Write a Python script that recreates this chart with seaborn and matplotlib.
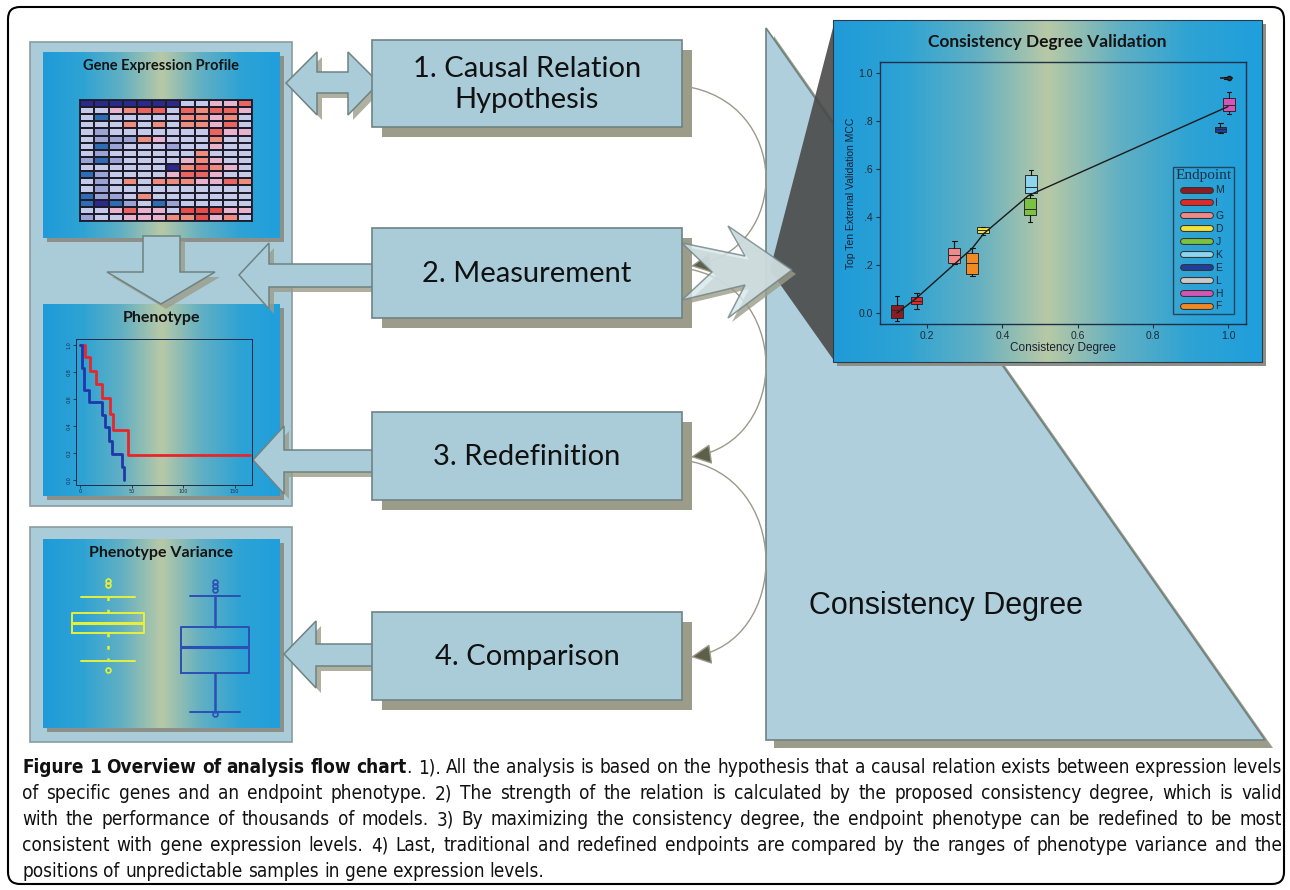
import os
import numpy as np
import matplotlib
matplotlib.use('Agg')
import matplotlib.pyplot as plt
import matplotlib.patheffects as pe
import seaborn as sns
from matplotlib import font_manager
from matplotlib.font_manager import FontProperties
from matplotlib.patches import Polygon, Rectangle, FancyBboxPatch, FancyArrowPatch
from matplotlib.path import Path
from matplotlib.colors import LinearSegmentedColormap
from matplotlib.lines import Line2D

sns.set_theme(style='white')
names = {f.name for f in font_manager.fontManager.ttflist}
plt.rcParams['font.family'] = ['DejaVu Sans']
calib = 'Lato' if 'Lato' in names else 'DejaVu Sans'
arial = 'Liberation Sans' if 'Liberation Sans' in names else 'DejaVu Sans'
serif = 'Liberation Serif' if 'Liberation Serif' in names else 'DejaVu Serif'

# a narrow sans for the caption, if one is installed
narrow = [f for f in font_manager.fontManager.ttflist
          if ('condensed' in f.stretch or 'Condensed' in os.path.basename(f.fname)
              or 'Narrow' in os.path.basename(f.fname))
          and 'Mono' not in f.fname and 'Serif' not in f.fname and f.style == 'normal']
narrow_reg = [f for f in narrow if f.weight in (400, 'normal', 'regular')]
narrow_bold = [f for f in narrow if f.weight in (700, 'bold')]
if narrow_reg and narrow_bold:
    cap_reg = FontProperties(fname=narrow_reg[0].fname)
    cap_bold = FontProperties(fname=narrow_bold[0].fname)
    cap_is_narrow = True
else:
    cap_reg = FontProperties(family=arial)
    cap_bold = FontProperties(family=arial, weight='bold')
    cap_is_narrow = False

# ---- data ----
step_labels = ['1. Causal Relation\nHypothesis', '2. Measurement', '3. Redefinition', '4. Comparison']
panel_titles = ['Gene Expression Profile', 'Phenotype', 'Phenotype Variance']

heat_values = [
    [-2, -2, -2, -2, -2, -2, -2, -0.5, -0.5, 0.5, 0.5, 1.5],
    [-0.5, -0.5, 0.5, 1.2, 1.5, 1.5, -0.5, 1.5, 1.2, 1.5, 1.5, 0.5],
    [-0.5, -1.5, -0.5, -0.5, -0.5, -0.5, -0.5, 1.2, 1.2, 0.5, 1.2, -0.5],
    [-0.5, -0.5, -0.5, 1.2, -0.5, 1.2, -0.5, 1.2, 1.2, 0.5, 1.5, -0.5],
    [-0.5, -1, -0.5, -0.5, -0.5, -0.5, -0.5, -0.5, -0.5, 1.5, 0.5, 0.5],
    [-0.5, -1, -1, -1, 1.2, 0.5, -0.5, -0.5, -0.5, 1.2, -0.5, -0.5],
    [-0.5, -1.5, -1, -0.5, -0.5, -0.5, -1, -0.5, -0.5, 0.5, -0.5, -0.5],
    [-0.5, -1, -0.5, -0.5, -0.5, -0.5, -0.5, -0.5, 1.2, -0.5, -0.5, -0.5],
    [-1, -1.5, -1, -0.5, -0.5, -0.5, -0.5, 0.5, 1.2, 0.5, -0.5, -0.5],
    [-0.5, -0.5, -0.5, -0.5, -0.5, -0.5, -2, 1.2, 1.5, 1.2, 0.5, -0.5],
    [-1.5, -1, -0.5, -0.5, -0.5, -0.5, 0.5, 1.5, 1.5, 0.5, -0.5, -0.5],
    [-0.5, -1, -0.5, 1.2, -0.5, 1.2, 1.2, 1.2, 0.5, 0.5, 1.5, 1.2],
    [-0.5, -1, -0.5, -0.5, -0.5, -0.5, -0.5, -0.5, -0.5, -0.5, -0.5, -0.5],
    [-1.5, -1, -1, -0.5, 1.2, -0.5, -0.5, -0.5, -0.5, -0.5, -0.5, -0.5],
    [-1.5, -2, -1.5, -1, -0.5, -1.5, -1, -0.5, -0.5, -0.5, -0.5, -0.5],
    [-0.5, -0.5, 0.5, 1.5, 0.5, 0.5, -0.5, 1.8, 1.8, 1.8, 0.5, 0.5],
    [-1, -0.5, -0.5, 0.5, 0.5, 0.5, 1.2, 1.2, 1.8, 0.5, 1.2, -0.5],
]

km_red_t = [0, 5, 10, 15, 21, 29, 32, 47, 165]
km_red_s = [1.0, 0.91, 0.81, 0.71, 0.61, 0.49, 0.37, 0.185, 0.185]
km_blue_t = [0, 2, 4, 9, 21, 24, 28, 31, 41, 43]
km_blue_s = [1.0, 0.83, 0.67, 0.58, 0.48, 0.39, 0.29, 0.19, 0.096, 0.0]

var_whislo = [6.5, 1.4]
var_q1 = [9.3, 5.3]
var_med = [10.3, 7.9]
var_q3 = [11.3, 9.9]
var_whishi = [12.9, 13.0]
var_fliers = [[14.5, 14.1, 5.6], [14.4, 14.0, 13.6, 1.2]]

endpoints = ['M', 'I', 'G', 'D', 'J', 'K', 'E', 'L', 'H', 'F']
endpoint_colors = ['#8b1c24', '#e02a2a', '#f08a8a', '#f2e23c', '#7cc242',
                   '#8fd4ee', '#1f3f9e', '#c9c9c9', '#d455b8', '#f28a24']
cd_x = [0.12, 0.172, 0.272, 0.349, 0.473, 0.476, 0.98, 0.995, 1.003, 0.32]
mcc_whislo = [-0.033, 0.018, 0.203, 0.325, 0.38, 0.49, 0.749, 0.976, 0.828, 0.154]
mcc_q1 = [-0.02, 0.037, 0.207, 0.332, 0.408, 0.499, 0.756, 0.978, 0.843, 0.161]
mcc_med = [0.012, 0.051, 0.242, 0.346, 0.435, 0.526, 0.765, 0.98, 0.867, 0.21]
mcc_q3 = [0.033, 0.068, 0.272, 0.357, 0.478, 0.575, 0.774, 0.982, 0.894, 0.249]
mcc_whishi = [0.071, 0.085, 0.30, 0.359, 0.49, 0.596, 0.793, 0.984, 0.92, 0.272]
trend_x = [0.12, 0.17, 0.27, 0.32, 0.35, 0.47, 1.0]
trend_y = [0.0, 0.06, 0.2, 0.27, 0.33, 0.49, 0.86]

caption_bold = 'Figure 1 Overview of analysis flow chart'
caption_lines = [
    'Figure 1 Overview of analysis flow chart. 1). All the analysis is based on the hypothesis that a causal relation exists between expression levels',
    'of specific genes and an endpoint phenotype. 2) The strength of the relation is calculated by the proposed consistency degree, which is valid',
    'with the performance of thousands of models. 3) By maximizing the consistency degree, the endpoint phenotype can be redefined to be most',
    'consistent with gene expression levels. 4) Last, traditional and redefined endpoints are compared by the ranges of phenotype variance and the',
    'positions of unpredictable samples in gene expression levels.',
]

# ---- canvas in pixel units ----
W, H = 1290, 890
fig = plt.figure(figsize=(12.9, 8.9), dpi=100)
ax = fig.add_axes([0, 0, 1, 1])
ax.axis('off')

box_fc, box_ec, shadow_c = '#a9ccd8', '#6f8282', '#9c9c8a'
grad_cmap = LinearSegmentedColormap.from_list(
    'grad', ['#1f9bd9', '#2ea3d4', '#62b0c3', '#b8c9a6', '#62b0c3', '#2ea3d4', '#1f9fdd'])
heat_cmap = LinearSegmentedColormap.from_list(
    'heat', [(0, '#2b2a8a'), (0.125, '#2e6cb4'), (0.25, '#9aa3d4'), (0.375, '#c5cae8'),
             (0.5, '#d9cde2'), (0.625, '#e8b4cc'), (0.8, '#f08c7c'), (0.875, '#ec6560'),
             (1, '#e0403c')])


def px_axes(x0, y0, x1, y1):
    a = fig.add_axes([x0 / W, 1 - y1 / H, (x1 - x0) / W, (y1 - y0) / H])
    a.set_facecolor('none')
    return a


def gradient_panel(x0, y0, x1, y1, z, edge='none'):
    ax.add_patch(Rectangle((x0 + 4, y0 + 4), x1 - x0, y1 - y0, fc='#8d9088', ec='none', zorder=z - 0.2))
    g = np.linspace(0, 1, 256).reshape(1, -1)
    ax.imshow(g, extent=(x0, x1, y1, y0), cmap=grad_cmap, aspect='auto', zorder=z, interpolation='bicubic')
    ax.add_patch(Rectangle((x0, y0), x1 - x0, y1 - y0, fc='none', ec=edge, lw=0.8, zorder=z + 0.1))


def block(points, z, off=5, fc=box_fc, alpha=1.0):
    pts = np.array(points, float)
    ax.add_patch(Polygon(pts + off, closed=True, fc=shadow_c, ec='none', alpha=0.8, zorder=z - 0.1))
    ax.add_patch(Polygon(pts, closed=True, fc=fc, ec=box_ec, lw=1.1, alpha=alpha, zorder=z))


# outer frame
ax.add_patch(FancyBboxPatch((8, 7), 1276, 877, boxstyle='round,pad=0,rounding_size=12',
                            fc='white', ec='black', lw=1.5, zorder=0))

# big "Consistency Degree" triangle
tri = np.array([[766, 28], [1265, 740], [766, 740]], float)
ax.add_patch(Polygon(tri + 8, closed=True, fc=shadow_c, ec='none', zorder=1))
ax.add_patch(Polygon(tri, closed=True, fc='#aecfdb', ec='#6f8282', lw=1.2, zorder=1.1))
ax.text(946, 606, 'Consistency Degree', fontsize=22, family=arial, color='#111111',
        ha='center', va='center', zorder=1.2)

# left outer panels
for (x0, y0, x1, y1) in [(30, 42, 292, 506), (30, 527, 292, 742)]:
    ax.add_patch(Rectangle((x0, y0), x1 - x0, y1 - y0, fc=box_fc, ec='#8a9c9c', lw=1.2, zorder=1))

# inner gradient panels
gradient_panel(43, 52, 280, 238, 2)
gradient_panel(43, 304, 280, 496, 2)
gradient_panel(43, 539, 280, 728, 2)
gradient_panel(833, 20, 1262, 362, 7, edge='#2b3b4b')

ax.text(161, 66, panel_titles[0], fontsize=10.5, fontweight='bold', family=calib,
        color='#141414', ha='center', va='center', zorder=3)
ax.text(161, 318, panel_titles[1], fontsize=11.5, fontweight='bold', family=calib,
        color='#141414', ha='center', va='center', zorder=3)
ax.text(161, 553, panel_titles[2], fontsize=11.5, fontweight='bold', family=calib,
        color='#141414', ha='center', va='center', zorder=3)
ax.text(1047, 42, 'Consistency Degree Validation', fontsize=12.5, fontweight='bold', family=calib,
        color='#141414', ha='center', va='center', zorder=8)

# connector curves between steps
for (ya, yb) in [(86, 266), (268, 457), (460, 657)]:
    verts = [(683, ya), (792, ya + 15), (792, yb - 15), (691, yb)]
    codes = [Path.MOVETO, Path.CURVE4, Path.CURVE4, Path.CURVE4]
    ax.add_patch(FancyArrowPatch(path=Path(verts, codes), arrowstyle='-|>,head_length=0.8,head_width=0.4',
                                 mutation_scale=16, ec='#9a9a8a', fc='#5c6048', lw=1.0,
                                 transform=ax.transData, zorder=3))

# step boxes
step_boxes = [(372, 40, 682, 127), (372, 228, 682, 318), (372, 412, 682, 500), (372, 612, 682, 700)]
for (x0, y0, x1, y1), lab in zip(step_boxes, step_labels):
    ax.add_patch(Rectangle((x0 + 10, y0 + 10), x1 - x0, y1 - y0, fc=shadow_c, ec='none', zorder=4))
    ax.add_patch(Rectangle((x0, y0), x1 - x0, y1 - y0, fc=box_fc, ec=box_ec, lw=1.2, zorder=4.1))
    ax.text((x0 + x1) / 2, (y0 + y1) / 2 + 1, lab, fontsize=21, family=calib, color='#111111',
            ha='center', va='center', linespacing=1.25, zorder=4.2)

# block arrows
block([(286, 83), (317, 52), (317, 72), (348, 72), (348, 52), (379, 83),
       (348, 115), (348, 93), (317, 93), (317, 115)], 3.5)
block([(239, 275), (269, 243), (269, 264), (379, 264), (379, 287), (269, 287), (269, 309)], 3.5)
block([(253, 460), (284, 426), (284, 450), (379, 450), (379, 472), (284, 472), (284, 494)], 3.5)
block([(284, 654), (316, 621), (316, 644), (379, 644), (379, 666), (316, 666), (316, 688)], 3.5)
block([(143, 236), (180, 236), (180, 272), (215, 272), (161, 304), (107, 272), (143, 272)], 3.5)

# zoom lens and measurement arrow
ax.add_patch(Polygon([(770, 270), (835, 20), (835, 362)], closed=True, fc='#4a4a4a',
                     ec='none', alpha=0.9, zorder=6))
block([(682, 243), (745, 256), (728, 226), (792, 270), (728, 318), (745, 285), (682, 300), (712, 272)],
      6.5, off=4, fc='#d6e6ec', alpha=0.8)

ax.set_xlim(0, W)
ax.set_ylim(H, 0)

# ---- heatmap ----
ax_hm = px_axes(80, 100, 252, 221)
sns.heatmap(np.array(heat_values), ax=ax_hm, cmap=heat_cmap, vmin=-2, vmax=2, cbar=False,
            linewidths=1.3, linecolor='#1c1c2c', xticklabels=False, yticklabels=False)
for s in ax_hm.spines.values():
    s.set_visible(True)
    s.set_color('#1c1c2c')
    s.set_linewidth(1.3)

# ---- survival curves ----
ax_km = px_axes(76, 339, 252, 485)
sns.lineplot(x=km_red_t, y=km_red_s, ax=ax_km, color='#e8262a', lw=2, drawstyle='steps-post')
sns.lineplot(x=km_blue_t, y=km_blue_s, ax=ax_km, color='#2037a8', lw=2, drawstyle='steps-post')
ax_km.set_xlim(-4, 167)
ax_km.set_ylim(-0.037, 1.044)
ax_km.set_xticks([0, 50, 100, 150])
ax_km.set_yticks([0.0, 0.2, 0.4, 0.6, 0.8, 1.0])
ax_km.tick_params(labelsize=3.5, length=2, width=0.6, colors='#1b2b4a', pad=1, bottom=True, left=True)
for lab in ax_km.get_yticklabels():
    lab.set_rotation(90)
    lab.set_va('center')
for s in ax_km.spines.values():
    s.set_color('#1b2b4a')
    s.set_linewidth(0.7)

# ---- phenotype variance boxes ----
ax_var = px_axes(43, 566, 280, 726)
var_cols = ['#e6f03a', '#2a50b4']
var_ls = [(0, (1.5, 3.5)), '-']
var_w = [0.68, 0.63]
for i in range(2):
    st = [dict(whislo=var_whislo[i], q1=var_q1[i], med=var_med[i], q3=var_q3[i],
               whishi=var_whishi[i], fliers=var_fliers[i])]
    c = var_cols[i]
    ax_var.bxp(st, positions=[i + 1], widths=var_w[i], manage_ticks=False,
               boxprops=dict(color=c, lw=1.4), medianprops=dict(color=c, lw=2.2),
               whiskerprops=dict(color=c, lw=1.8, linestyle=var_ls[i]),
               capprops=dict(color=c, lw=1.4), capwidths=var_w[i] * 0.75,
               flierprops=dict(marker='o', mfc='none', mec=c, ms=3.5, mew=1.2))
ax_var.set_xlim(0.393, 2.608)
ax_var.set_ylim(0, 16)
ax_var.axis('off')

# ---- consistency degree validation ----
ax_v = px_axes(880, 62, 1246, 324)
stats = [dict(whislo=mcc_whislo[i], q1=mcc_q1[i], med=mcc_med[i], q3=mcc_q3[i],
              whishi=mcc_whishi[i], fliers=[0.98] if endpoints[i] == 'H' else [])
         for i in range(len(endpoints))]
bp = ax_v.bxp(stats, positions=cd_x, widths=0.031, patch_artist=True, manage_ticks=False,
              boxprops=dict(ec='#2a2a2a', lw=0.7), medianprops=dict(color='#2a2a2a', lw=0.7),
              whiskerprops=dict(color='#111111', lw=0.8), capprops=dict(color='#111111', lw=0.8),
              capwidths=0.012, flierprops=dict(marker='o', mfc='#333333', mec='#111111', ms=3))
for patch, c in zip(bp['boxes'], endpoint_colors):
    patch.set_facecolor(c)
sns.lineplot(x=trend_x, y=trend_y, ax=ax_v, color='#1a1a1a', lw=1.0)
ax_v.set_xlim(0.0745, 1.048)
ax_v.set_ylim(-0.046, 1.046)
ax_v.set_xticks([0.2, 0.4, 0.6, 0.8, 1.0])
ax_v.set_xticklabels(['0.2', '0.4', '0.6', '0.8', '1.0'])
ax_v.set_yticks([0.0, 0.2, 0.4, 0.6, 0.8, 1.0])
ax_v.set_yticklabels(['0.0', '.2', '.4', '.6', '.8', '1.0'])
ax_v.tick_params(labelsize=7.5, length=3, width=0.8, colors='#1b2f48', pad=2, bottom=True, left=True)
for lab in ax_v.get_xticklabels() + ax_v.get_yticklabels():
    lab.set_family(arial)
    lab.set_color('#202a36')
for s in ax_v.spines.values():
    s.set_color('#1b2f48')
    s.set_linewidth(1.0)
ax_v.set_xlabel('Consistency Degree', fontsize=8.5, family=arial, color='#1b2030', labelpad=1)
ax_v.set_ylabel('Top Ten External Validation MCC', fontsize=7.5, family=arial, color='#1b2030', labelpad=2)
handles = [Line2D([0], [0], color=c, lw=3.5, solid_capstyle='round',
                  path_effects=[pe.Stroke(linewidth=5, foreground='#333333', capstyle='round'), pe.Normal()])
           for c in endpoint_colors]
leg = ax_v.legend(handles, endpoints, title='Endpoint', loc='lower right', bbox_to_anchor=(0.982, 0.018),
                  fontsize=7.5, title_fontproperties={'family': serif, 'size': 11},
                  handlelength=2.6, labelspacing=0.28, borderpad=0.25, handletextpad=0.5,
                  fancybox=False, edgecolor='#1b2f48')
leg.get_frame().set_facecolor('none')
leg.get_frame().set_linewidth(1.0)
for t in leg.get_texts():
    t.set_family(arial)
    t.set_color('#202a36')
leg.get_title().set_color('#1b2f48')

# ---- caption (justified) ----
renderer = fig.canvas.get_renderer()


def text_w(s, size, bold):
    fp = (cap_bold if bold else cap_reg).copy()
    fp.set_size(size)
    t = ax.text(0, 0, s, fontproperties=fp)
    w = t.get_window_extent(renderer).width
    t.remove()
    return w


def line_tokens(i, line):
    if i == 0:
        rest = line[len(caption_bold):].split()
        toks = [(w, True, False) for w in caption_bold.split()]
        toks.append((rest[0], False, True))
        toks += [(w, False, False) for w in rest[1:]]
        return toks
    return [(w, False, False) for w in line.split()]


x_left, x_right = 22, 1282
toks0 = line_tokens(0, caption_lines[0])
base = 10
nat = sum(text_w(w, base, b) for w, b, g in toks0)
sp0 = text_w('a a', base, False) - text_w('aa', base, False)
nat += sp0 * sum(1 for w, b, g in toks0[1:] if not g)
cap_size = base * (x_right - x_left - 4) / nat
space = text_w('a a', cap_size, False) - text_w('aa', cap_size, False)
baselines = [773, 799, 825, 851, 877]
for i, line in enumerate(caption_lines):
    toks = line_tokens(i, line)
    widths = [text_w(w, cap_size, b) for w, b, g in toks]
    n_gaps = sum(1 for w, b, g in toks[1:] if not g)
    if i < len(caption_lines) - 1:
        gap = (x_right - x_left - sum(widths)) / n_gaps
    else:
        gap = space
    x = x_left
    for k, ((w, b, g), tw) in enumerate(zip(toks, widths)):
        if k > 0 and not g:
            x += gap
        fp = (cap_bold if b else cap_reg).copy()
        fp.set_size(cap_size)
        ax.text(x, baselines[i], w, fontproperties=fp, color='#111111',
                ha='left', va='baseline', zorder=5)
        x += tw

fig.savefig('out.png', dpi=100)
